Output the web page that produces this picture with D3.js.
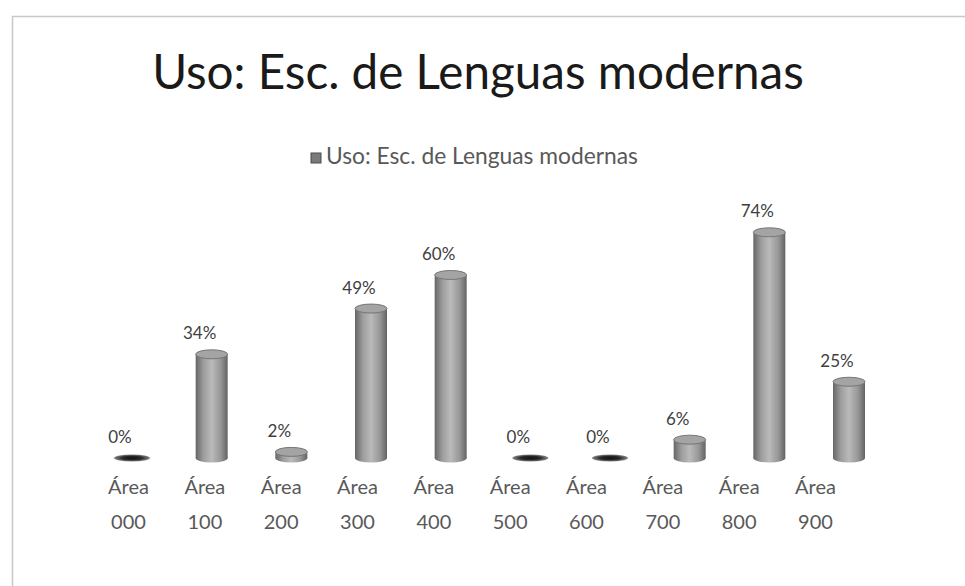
<!DOCTYPE html>
<html>
<head>
<meta charset="utf-8">
<script src="https://cdn.jsdelivr.net/npm/d3@7"></script>
<style>
  body { margin: 0; background: #fff; }
  text { font-family: Lato, "Open Sans", sans-serif; }
</style>
</head>
<body>
<svg id="chart" width="965" height="586"></svg>
<script>
// data
var chartTitle = "Uso: Esc. de Lenguas modernas";
var seriesName = "Uso: Esc. de Lenguas modernas";
var categories = ["Área 000", "Área 100", "Área 200", "Área 300", "Área 400",
                  "Área 500", "Área 600", "Área 700", "Área 800", "Área 900"];
var values = [0, 34, 2, 49, 60, 0, 0, 6, 74, 25];

var svg = d3.select("#chart");

// frame of the chart area
svg.append("path")
    .attr("d", "M12.5,600 V16.5 H980")
    .attr("fill", "none")
    .attr("stroke", "#c8c8c8")
    .attr("stroke-width", 1.5);

// gradients for the cylinders
var defs = svg.append("defs");
var cyl = defs.append("linearGradient").attr("id", "cyl");
[[0, "#666"], [0.25, "#9e9e9e"], [0.5, "#bababa"], [0.78, "#979797"], [1, "#636363"]]
  .forEach(function(s) { cyl.append("stop").attr("offset", s[0]).attr("stop-color", s[1]); });
var flat = defs.append("radialGradient").attr("id", "flat");
[[0, "#111"], [0.55, "#2a2a2a"], [1, "#8a8a8a"]]
  .forEach(function(s) { flat.append("stop").attr("offset", s[0]).attr("stop-color", s[1]); });

// scales: the bars sit slightly right of their labels (3D depth)
var x = d3.scalePoint().domain(categories).range([132, 849]);
var xLabel = d3.scalePoint().domain(categories).range([128, 815]);
var y = d3.scaleLinear().domain([0, 100]).range([458, 153]);

var barW = 32, ry = 4.5;
var data = categories.map(function(c, i) { return {cat: c, value: values[i]}; });

// title
var t = svg.append("text")
    .attr("x", 478).attr("y", 89)
    .attr("text-anchor", "middle")
    .attr("fill", "#1a1a1a")
    .attr("font-size", 40)
    .text(chartTitle);
t.attr("font-size", 40 * 652 / t.node().getComputedTextLength());

// legend
var lg = svg.append("g");
lg.append("rect").attr("x", 311).attr("y", 153).attr("width", 10).attr("height", 10)
    .attr("fill", "#7a7a7a").attr("stroke", "#4a4a4a");
var lt = lg.append("text").attr("x", 326).attr("y", 164)
    .attr("fill", "#595959").attr("font-size", 18).text(seriesName);
lt.attr("font-size", 18 * 312 / lt.node().getComputedTextLength());

// bars
var bars = svg.append("g").selectAll("g")
  .data(data)
  .enter().append("g");

bars.filter(function(d) { return d.value > 0; }).each(function(d) {
  var g = d3.select(this), cx = x(d.cat);
  g.append("ellipse").attr("cx", cx).attr("cy", y(0)).attr("rx", barW / 2).attr("ry", ry)
      .attr("fill", "url(#cyl)");
  g.append("rect").attr("x", cx - barW / 2).attr("y", y(d.value))
      .attr("width", barW).attr("height", y(0) - y(d.value))
      .attr("fill", "url(#cyl)");
  g.append("ellipse").attr("cx", cx).attr("cy", y(d.value)).attr("rx", barW / 2).attr("ry", ry)
      .attr("fill", "#a4a4a4").attr("stroke", "#767676").attr("stroke-width", 1);
});

bars.filter(function(d) { return d.value === 0; })
  .append("ellipse")
    .attr("cx", function(d) { return x(d.cat); })
    .attr("cy", y(0))
    .attr("rx", 18).attr("ry", 3.5)
    .attr("fill", "url(#flat)");

// value labels
bars.append("text")
    .attr("x", function(d) { return x(d.cat) - 12; })
    .attr("y", function(d) { return y(d.value) - 15; })
    .attr("text-anchor", "middle")
    .attr("fill", "#404040")
    .attr("font-size", 17)
    .text(function(d) { return d.value + "%"; });

// category axis, labels split in two lines
var ax = svg.append("g")
    .attr("transform", "translate(0,494)")
    .call(d3.axisBottom(xLabel).tickSize(0).tickPadding(0));
ax.select(".domain").remove();
ax.selectAll("text")
    .attr("fill", "#595959")
    .attr("font-size", 20)
    .attr("font-family", "Lato, sans-serif")
    .attr("dy", null)
    .text(null)
    .each(function(d) {
      var parts = d.split(" ");
      var el = d3.select(this);
      el.append("tspan").attr("x", 0).attr("y", 0).text(parts[0]);
      el.append("tspan").attr("x", 0).attr("y", 35).text(parts[1]);
    });
</script>
</body>
</html>
